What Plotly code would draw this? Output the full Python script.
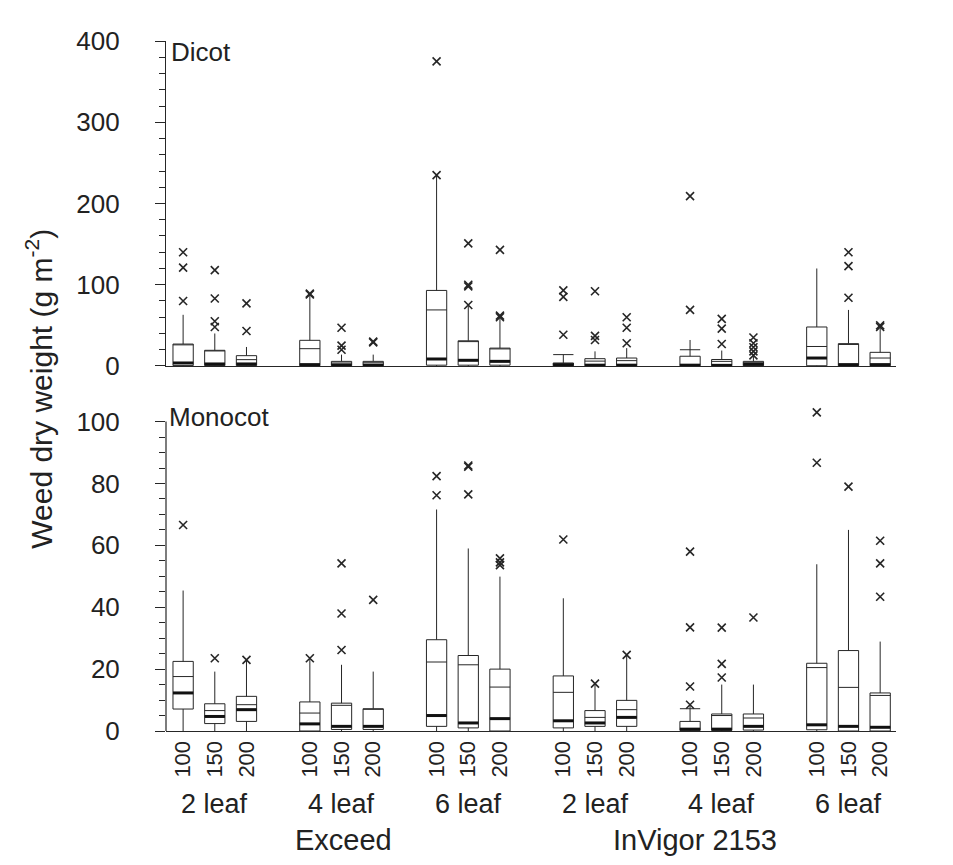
import plotly.graph_objects as go

# ---------------- data ----------------
cultivars = ["Exceed", "InVigor 2153"]
stages = ["2 leaf", "4 leaf", "6 leaf"]
rates = ["100", "150", "200"]

# Dicot (order: Exceed 2/4/6 leaf x 100/150/200, then InVigor 2153)
dicot_q1 = [0.5, 0.5, 0.5, 0.3, 0.3, 0.2, 1.0, 1.0, 1.0,
            0.2, 0.2, 0.3, 0.2, 0.2, 0.2, 0.3, 0.3, 0.3]
dicot_median = [3.7, 2.5, 2.5, 1.7, 1.2, 1.0, 8.6, 7.0, 5.7,
                1.7, 1.0, 1.0, 1.0, 0.8, 2.0, 9.8, 1.7, 1.7]
dicot_q3 = [27, 19.3, 12.7, 31.6, 5.7, 5.7, 93, 31, 22,
            3.7, 9, 9.8, 12, 8, 5.7, 48, 27.5, 16.8]
dicot_mean = [26, 18.5, 7.8, 21.3, 3.7, 4.0, 69, 30, 21,
              14, 6, 6.6, 20, 5.7, 4.0, 24, 26.5, 9.8]
dicot_low = [0] * 18
dicot_high = [63, 40, 23.4, 88, 14, 14, 235, 75, 61,
              14, 18, 22, 32, 19, 12, 120, 69, 48.8]
dicot_outliers = [[140, 121, 80], [118, 83, 55, 48], [77, 43], [89, 88],
                  [47, 25, 20], [30, 29], [375, 235], [151, 100, 98, 75],
                  [143, 62, 60],
                  [93, 85, 38.5], [92, 37, 32], [60, 47, 28], [209, 69],
                  [58, 46, 27], [35, 28, 23, 18, 13], [], [140, 123, 84],
                  [50, 48]]

# Monocot
mono_q1 = [7.1, 2.4, 3.1, 0.0, 0.5, 0.5, 1.5, 1.0, 0.0,
           1.0, 1.5, 1.5, 0.2, 0.2, 0.3, 0.4, 0.0, 0.0]
mono_median = [12.3, 4.7, 6.9, 2.3, 1.5, 1.5, 5.0, 2.6, 4.0,
               3.3, 2.6, 4.4, 0.6, 0.6, 1.5, 2.0, 1.5, 1.2]
mono_q3 = [22.5, 8.8, 11.2, 9.4, 9.0, 7.2, 29.5, 24.4, 20.0,
           17.8, 6.6, 9.9, 3.1, 5.5, 5.5, 21.9, 26.0, 12.3]
mono_mean = [17.6, 6.6, 8.5, 5.8, 8.3, 7.0, 22.3, 21.4, 14.2,
             12.5, 4.4, 6.9, 7.2, 5.0, 4.2, 20.5, 14.1, 11.5]
mono_low = [0] * 18
mono_high = [45.4, 19.2, 23, 23.5, 21.4, 19.2, 71.6, 59, 49.9,
             42.9, 15.3, 24.6, 8.5, 15, 15, 53.9, 65, 28.9]
mono_outliers = [[66.6], [23.5], [23], [23.5], [54.2, 38, 26.2], [42.4],
                 [82.4, 76.2], [85.4, 85.8, 76.5], [55.8, 54.5, 53.6],
                 [61.9], [15.3], [24.6], [58, 33.5, 14.4, 8.5],
                 [33.4, 21.7, 17.3], [36.7], [103, 86.7], [79],
                 [61.5, 54.2, 43.4]]

dicot_ticks = [0, 100, 200, 300, 400]
mono_ticks = [0, 20, 40, 60, 80, 100]

# ---------------- layout helpers ----------------
INK = "#262626"
FONT = "Arial, Liberation Sans, sans-serif"
BW = 0.64  # box width in category units

positions = [(ci * 3 + si) * 4 + ri
             for ci in range(len(cultivars))
             for si in range(len(stages))
             for ri in range(len(rates))]
tick_text = [rates[ri] for ci in range(len(cultivars))
             for si in range(len(stages)) for ri in range(len(rates))]

fig = go.Figure()


def seg(vals):
    xs, ys = [], []
    for p, v in zip(positions, vals):
        xs += [p - BW / 2, p + BW / 2, None]
        ys += [v, v, None]
    return xs, ys


def add_panel(q1, med, q3, mean, lo, hi, outl, xa, ya):
    fig.add_trace(go.Box(
        x=positions, q1=q1, median=med, q3=q3,
        lowerfence=lo, upperfence=hi, width=BW,
        fillcolor="white", line=dict(color=INK, width=1),
        whiskerwidth=0, boxpoints=False, showlegend=False,
        xaxis=xa, yaxis=ya, hoverinfo="skip"))
    mx, my = seg(mean)
    fig.add_trace(go.Scatter(x=mx, y=my, mode="lines",
                             line=dict(color=INK, width=1),
                             showlegend=False, xaxis=xa, yaxis=ya,
                             hoverinfo="skip"))
    dx, dy = seg(med)
    fig.add_trace(go.Scatter(x=dx, y=dy, mode="lines",
                             line=dict(color="#111111", width=3),
                             showlegend=False, xaxis=xa, yaxis=ya,
                             hoverinfo="skip"))
    ox, oy = [], []
    for p, vals in zip(positions, outl):
        for v in vals:
            ox.append(p)
            oy.append(v)
    fig.add_trace(go.Scatter(x=ox, y=oy, mode="markers",
                             marker=dict(symbol="x-thin-open", size=8,
                                         line=dict(color=INK, width=1.6),
                                         color=INK),
                             cliponaxis=False, showlegend=False,
                             xaxis=xa, yaxis=ya, hoverinfo="skip"))


add_panel(dicot_q1, dicot_median, dicot_q3, dicot_mean, dicot_low,
          dicot_high, dicot_outliers, "x", "y")
add_panel(mono_q1, mono_median, mono_q3, mono_mean, mono_low,
          mono_high, mono_outliers, "x2", "y2")

xr = [-0.54, 22.5]
common_y = dict(ticks="outside", ticklen=10, tickcolor=INK, tickwidth=1,
                showgrid=False, zeroline=False,
                tickfont=dict(family=FONT, size=26, color="#222"),
                ticklabelstandoff=30)

# bottom panel: range extended a little above 100 so the top outlier shows;
# the axis line itself is drawn only up to the top tick.
mono_top = 104.2
fig.update_layout(
    width=953, height=865,
    margin=dict(l=158, r=65, t=33, b=142),
    paper_bgcolor="white", plot_bgcolor="white",
    font=dict(family=FONT, color="#222"),
    xaxis=dict(domain=[0, 1], range=xr, anchor="y", showline=True,
               linecolor=INK, linewidth=1.2, showticklabels=False,
               ticks="", showgrid=False, zeroline=False),
    xaxis2=dict(domain=[0, 1], range=xr, anchor="y2", showline=True,
                linecolor=INK, linewidth=1.2, ticks="",
                tickvals=positions, ticktext=tick_text, tickangle=-90,
                tickfont=dict(family=FONT, size=22, color="#222"),
                showgrid=False, zeroline=False),
    yaxis=dict(domain=[0.529, 1], range=[0, 400], anchor="x",
               showline=True, linecolor=INK, linewidth=1.2,
               tickvals=dicot_ticks,
               minor=dict(dtick=20, ticklen=6, ticks="outside",
                          tickcolor=INK, showgrid=False),
               **common_y),
    yaxis2=dict(domain=[0, 0.4672], range=[0, mono_top], anchor="x2",
                showline=False,
                tickvals=mono_ticks,
                minor=dict(tickvals=[v for v in range(0, 101, 5)],
                           ticklen=6, ticks="outside",
                           tickcolor=INK, showgrid=False),
                **common_y),
)
fig.add_shape(type="line", xref="x2 domain", yref="y2", x0=0, x1=0,
              y0=0, y1=mono_ticks[-1], line=dict(color=INK, width=1.2))

ann = []
ann.append(dict(text="Weed dry weight (g m<sup>-2</sup>)", textangle=-90,
                xref="paper", yref="paper", x=-0.174, y=0.496,
                xanchor="center", yanchor="middle", showarrow=False,
                font=dict(family=FONT, size=30, color="#222")))
ann.append(dict(text="Dicot", xref="paper", yref="paper", x=0.004, y=1.009,
                xanchor="left", yanchor="top", showarrow=False,
                font=dict(family=FONT, size=26, color="#222")))
ann.append(dict(text="Monocot", xref="paper", yref="paper", x=0.002,
                y=0.48, xanchor="left", yanchor="top", showarrow=False,
                font=dict(family=FONT, size=26, color="#222")))
for ci in range(len(cultivars)):
    for si, st in enumerate(stages):
        ann.append(dict(text=st, xref="x2", yref="paper",
                        x=(ci * 3 + si) * 4 + 1, y=-0.106,
                        xanchor="center", yanchor="middle", showarrow=False,
                        font=dict(family=FONT, size=27, color="#222")))
cultivar_label_x = [5.05, 16.15]
for cx, cname in zip(cultivar_label_x, cultivars):
    ann.append(dict(text=cname, xref="x2", yref="paper", x=cx, y=-0.158,
                    xanchor="center", yanchor="middle", showarrow=False,
                    font=dict(family=FONT, size=29, color="#222")))
fig.update_layout(annotations=ann)

fig.write_html("out.html")
